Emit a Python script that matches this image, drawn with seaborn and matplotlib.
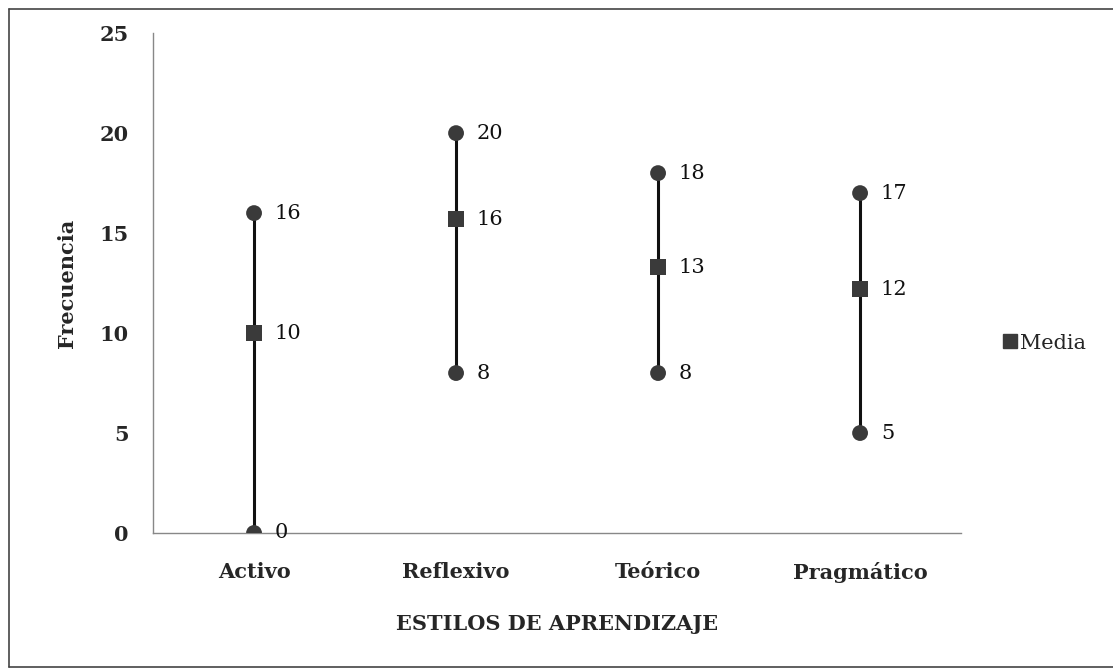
import matplotlib
matplotlib.use("Agg")
import matplotlib.pyplot as plt
from matplotlib.lines import Line2D
import pandas as pd
import seaborn as sns

# Data
estilos = ["Activo", "Reflexivo", "Teórico", "Pragmático"]
maximo = [16, 20, 18, 17]
minimo = [0, 8, 8, 5]
media = [10.0, 15.7, 13.3, 12.2]

df = pd.DataFrame({"estilo": estilos, "max": maximo, "min": minimo, "media": media})
df["x"] = range(len(df))

sns.set_style("white")
plt.rcParams["font.family"] = ["DejaVu Serif"]

fig = plt.figure(figsize=(11.13, 6.70), dpi=100)
ax = fig.add_axes([0.1375, 0.2045, 0.726, 0.746])

mark_col = "#3a3a3a"

# high-low lines
ax.vlines(df["x"], df["min"], df["max"], color="#111111", linewidth=2.2, zorder=2)

# max / min points (min at 0 gets cut by the axis like in the original)
sns.scatterplot(x="x", y="max", data=df, ax=ax, color=mark_col, s=130,
                marker="o", edgecolor="none", zorder=3, legend=False)
sns.scatterplot(x="x", y="min", data=df, ax=ax, color=mark_col, s=130,
                marker="o", edgecolor="none", zorder=3, legend=False)
# mean squares
sns.scatterplot(x="x", y="media", data=df, ax=ax, color=mark_col, s=130,
                marker="s", edgecolor="none", zorder=4, legend=False)

# value labels
for _, r in df.iterrows():
    for col in ["max", "media", "min"]:
        ax.annotate(f"{r[col]:.0f}", (r["x"], r[col]), xytext=(15, 0),
                    textcoords="offset points", va="center", ha="left",
                    fontsize=15, color="#111111")

ax.set_xlim(-0.5, len(df) - 0.5)
ax.set_ylim(0, 25)
ax.set_yticks([0, 5, 10, 15, 20, 25])
ax.set_xticks(df["x"])
ax.set_xticklabels(estilos, fontsize=15, fontweight="bold")
ax.set_xticks([i + 0.5 for i in range(len(df))], minor=True)
ax.tick_params(axis="x", which="major", length=0, pad=21)
ax.tick_params(axis="x", which="minor", length=6, color="#777777", direction="out")
ax.tick_params(axis="y", length=4.5, color="#777777", direction="out", pad=13,
               labelsize=15)
for lbl in ax.get_yticklabels():
    lbl.set_fontweight("bold")

for side in ["top", "right"]:
    ax.spines[side].set_visible(False)
for side in ["left", "bottom"]:
    ax.spines[side].set_color("#888888")
    ax.spines[side].set_linewidth(1.0)

ax.set_xlabel("ESTILOS DE APRENDIZAJE", fontsize=15, fontweight="bold", labelpad=22)
ax.set_ylabel("Frecuencia", fontsize=15, fontweight="bold", labelpad=16)

handle = Line2D([], [], marker="s", linestyle="none", color=mark_col, markersize=10)
fig.legend([handle], ["Media"], loc="center left", bbox_to_anchor=(0.900, 0.488),
           frameon=False, fontsize=15, handletextpad=0.1, handlelength=0.8,
           borderpad=0, borderaxespad=0)

# outer frame of the scanned chart (left, top, bottom edges)
frame = dict(transform=fig.transFigure, color="#444444", linewidth=1.2)
fig.add_artist(Line2D([0.008, 0.008], [0.0045, 0.987], **frame))
fig.add_artist(Line2D([0.008, 1.0], [0.987, 0.987], **frame))
fig.add_artist(Line2D([0.008, 1.0], [0.0045, 0.0045], **frame))

fig.savefig("out.png", dpi=100)
